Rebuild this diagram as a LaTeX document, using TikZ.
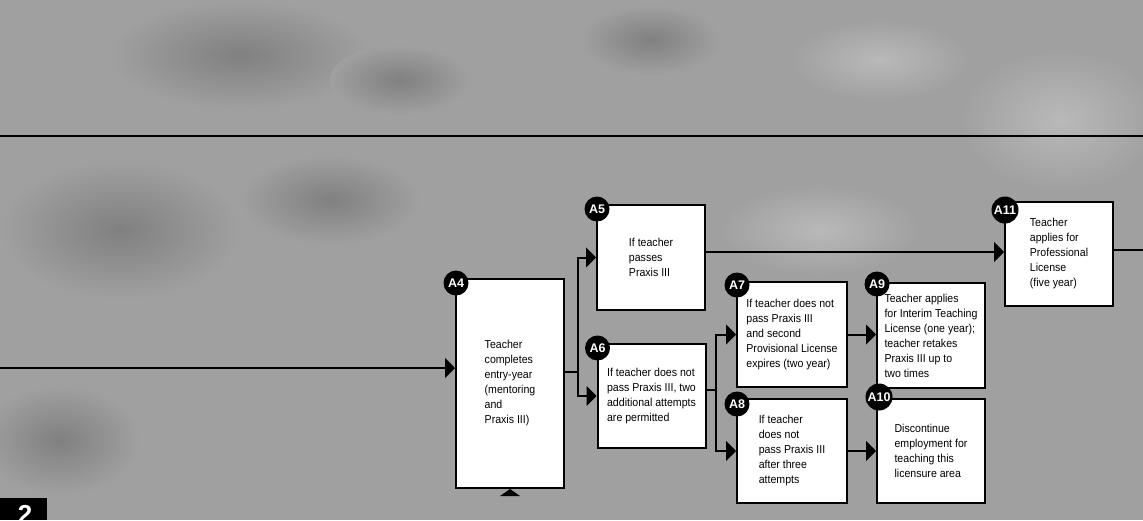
\documentclass[tikz,border=0pt]{standalone}
\usepackage{fontspec}
\setmainfont{Liberation Sans}[FakeStretch=0.92]
\usetikzlibrary{arrows.meta}
\definecolor{bg}{RGB}{160,160,160}
\definecolor{dk}{RGB}{128,128,128}
\definecolor{lt}{RGB}{185,185,185}
\begin{document}
\begin{tikzpicture}[x=1pt,y=-1pt,
  box/.style={draw=black, line width=2pt, fill=white, align=left, inner sep=0pt,
    font=\fontsize{11.5}{15}\selectfont},
  badge/.style={circle, fill=black, text=white, inner sep=0pt, minimum size=25pt,
    font=\fontspec{Liberation Sans}\bfseries\fontsize{12.5}{12.5}\selectfont},
  conn/.style={line width=2pt, -{Triangle[length=10pt,width=20pt]}},
  wire/.style={line width=2pt},
  dblob/.style={inner color=dk, outer color=bg},
  lblob/.style={inner color=lt, outer color=bg}]
\useasboundingbox (0,0) rectangle (1143,520);
% background
\fill[bg] (0,0) rectangle (1143,520);
\shade[dblob] (240,55) ellipse (130 and 55);
\shade[dblob] (400,80) ellipse (70 and 35);
\shade[dblob] (120,230) ellipse (120 and 70);
\shade[dblob] (330,200) ellipse (90 and 45);
\shade[dblob] (60,440) ellipse (80 and 55);
\shade[dblob] (650,40) ellipse (70 and 35);
\shade[lblob] (1060,120) ellipse (100 and 70);
\shade[lblob] (820,230) ellipse (100 and 45);
\shade[lblob] (880,60) ellipse (90 and 40);
% horizontal rule
\coordinate (h1) at (0,136);
\coordinate (h2) at (1143,136);
\draw[line width=2pt] (h1) -- (h2);
% boxes
\node[box, minimum width=108pt, minimum height=209pt] (A4) at (510,383.5)
  {Teacher\\completes\\entry-year\\(mentoring\\and\\Praxis III)};
\node[box, minimum width=108pt, minimum height=105pt] (A5) at (651,257.5)
  {If teacher\\passes\\Praxis III};
\node[box, minimum width=108pt, minimum height=104pt] (A6) at (651.5,396)
  {If teacher does not\\pass Praxis III, two\\additional attempts\\are permitted};
\node[box, minimum width=110pt, minimum height=105pt] (A7) at (792,334.5)
  {If teacher does not\\pass Praxis III\\and second\\Provisional License\\expires (two year)};
\node[box, minimum width=110pt, minimum height=104pt] (A8) at (792,451)
  {If teacher\\does not\\pass Praxis III\\after three\\attempts};
\node[box, minimum width=108pt, minimum height=105pt] (A9) at (931,335.5)
  {Teacher applies\\for Interim Teaching\\License (one year);\\teacher retakes\\Praxis III up to\\two times};
\node[box, minimum width=108pt, minimum height=104pt] (A10) at (931,451)
  {Discontinue\\employment for\\teaching this\\licensure area};
\node[box, minimum width=108pt, minimum height=104pt] (A11) at (1059,254)
  {Teacher\\applies for\\Professional\\License\\(five year)};
% connectors
\coordinate (L) at (0,368);
\draw[conn] (L) -- (L -| A4.west);
\coordinate (j1) at (578,372);
\draw[wire] (A4.east |- j1) -- (j1);
\draw[conn] (j1) |- (A5.west);
\draw[conn] (j1) |- (A6.west);
\coordinate (y252) at (0,252);
\draw[conn] (A5.east |- y252) -- (A11.west |- y252);
\coordinate (R) at (1143,250);
\draw[wire] (A11.east |- R) -- (R);
\coordinate (j2) at (716,390);
\draw[wire] (A6.east |- j2) -- (j2);
\draw[conn] (j2) |- (A7.west);
\draw[conn] (j2) |- (A8.west);
\draw[conn] (A7.east) -- (A9.west |- A7.east);
\draw[conn] (A8.east) -- (A10.west |- A8.east);
% small triangle under A4
\fill (A4.south) ++(-10,7) -- ++(20,0) -- (A4.south) -- cycle;
% badges
\node[badge] (b4) at ([xshift=1pt,yshift=-5pt]A4.north west) {A4};
\node[badge] (b5) at ([xshift=1pt,yshift=-5pt]A5.north west) {A5};
\node[badge] (b6) at ([xshift=1pt,yshift=-5pt]A6.north west) {A6};
\node[badge] (b7) at ([xshift=1pt,yshift=-4pt]A7.north west) {A7};
\node[badge] (b8) at ([xshift=1pt,yshift=-6pt]A8.north west) {A8};
\node[badge] (b9) at ([xshift=1pt,yshift=-2pt]A9.north west) {A9};
\node[badge, minimum size=27pt] (b10) at ([xshift=3pt,yshift=1pt]A10.north west) {A10};
\node[badge, minimum size=27pt] (b11) at ([xshift=1pt,yshift=-9pt]A11.north west) {A11};
% corner tab
\fill (0,498) rectangle (47,520);
\begin{scope}
  \clip (0,498) rectangle (47,520);
  \node[text=white, inner sep=0pt, anchor=north, font=\fontspec{Liberation Sans}\bfseries\fontsize{26}{26}\selectfont] (n2) at (25,505) {2};
\end{scope}
\end{tikzpicture}
\end{document}
